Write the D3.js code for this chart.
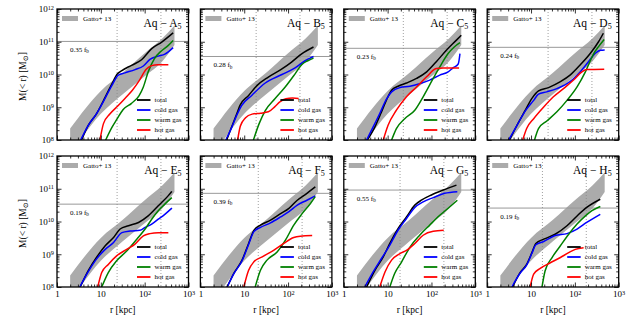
<!DOCTYPE html>
<html>
<head>
<meta charset="utf-8">
<script src="https://cdn.jsdelivr.net/npm/d3@7"></script>
<style>
body{margin:0;background:#fff;}
text{font-family:"Liberation Serif","DejaVu Serif",serif;fill:#000;}
</style>
</head>
<body>
<div id="viz"></div>
<script>
// values as log10(r / kpc), log10(M / Msun)
const panelNames = ["A", "B", "C", "D", "E", "F", "G", "H"];
const fbLabels = ["0.35", "0.28", "0.23", "0.24", "0.19", "0.39", "0.55", "0.19"];
const fbLogM = [11.01, 10.55, 10.80, 10.83, 10.53, 10.86, 10.96, 10.41];
const rVir = [235, 187, 228, 245, 235, 209, 192, 182];

// Gatto+13 band
const bandLogR = [0.3, 1.0, 1.5, 2.0, 2.4, 2.68];
const bandHigh = [8.35, 9.5, 10.05, 10.65, 11.1, 11.5];
const bandLow = [7.55, 8.8, 9.4, 9.95, 10.4, 10.9];

const totalMass = [
	[[0.56,8.0],[0.71,8.44],[0.90,8.80],[1.10,9.31],[1.25,9.71],[1.38,10.02],[1.48,10.12],[1.70,10.28],[1.93,10.45],[2.16,10.79],[2.39,10.99],[2.65,11.27]],
	[[0.60,8.0],[0.71,8.39],[0.83,8.80],[0.90,9.05],[1.10,9.36],[1.29,9.66],[1.55,9.92],[1.86,10.17],[2.08,10.38],[2.31,10.63],[2.58,10.84]],
	[[0.54,8.0],[0.71,8.40],[0.86,8.86],[0.97,9.21],[1.09,9.52],[1.24,9.64],[1.43,9.74],[1.66,9.88],[1.89,10.08],[2.11,10.39],[2.34,10.74],[2.57,11.05],[2.68,11.20]],
	[[0.51,8.0],[0.68,8.45],[0.87,8.91],[1.02,9.27],[1.17,9.50],[1.40,9.60],[1.67,9.78],[1.89,9.98],[2.12,10.29],[2.35,10.64],[2.54,11.0],[2.65,11.26]],
	[[0.53,8.0],[0.71,8.49],[0.90,8.90],[1.10,9.26],[1.29,9.51],[1.44,9.77],[1.63,9.87],[1.86,9.97],[2.08,10.17],[2.31,10.48],[2.54,10.79],[2.62,10.92]],
	[[0.61,8.0],[0.76,8.41],[0.95,8.82],[1.10,9.33],[1.22,9.73],[1.37,9.89],[1.60,10.04],[1.83,10.24],[2.02,10.40],[2.21,10.65],[2.43,10.86],[2.62,11.06]],
	[[0.52,8.0],[0.71,8.51],[0.90,8.92],[1.05,9.33],[1.24,9.79],[1.43,10.14],[1.62,10.50],[1.77,10.65],[2.0,10.81],[2.27,10.96],[2.57,11.11]],
	[[0.58,8.0],[0.75,8.44],[0.90,8.69],[1.02,9.05],[1.11,9.33],[1.29,9.46],[1.55,9.61],[1.82,9.87],[2.05,10.17],[2.27,10.43],[2.58,10.68]]
];

const coldGas = [
	[[0.54,8.0],[0.71,8.44],[0.90,8.80],[1.10,9.28],[1.25,9.66],[1.40,9.98],[1.55,10.05],[1.78,10.15],[1.97,10.26],[2.12,10.46],[2.31,10.56],[2.46,10.62],[2.65,10.82]],
	[[0.58,8.0],[0.71,8.37],[0.83,8.76],[0.94,9.05],[1.17,9.36],[1.48,9.74],[1.86,10.0],[2.16,10.2],[2.39,10.42],[2.58,10.55]],
	[[0.52,8.0],[0.67,8.40],[0.82,8.81],[0.97,9.24],[1.09,9.47],[1.28,9.60],[1.51,9.64],[1.73,9.72],[1.96,9.83],[2.19,9.98],[2.38,10.08],[2.49,10.2],[2.61,10.32],[2.65,10.64]],
	[[0.49,8.0],[0.68,8.45],[0.87,8.89],[1.06,9.21],[1.17,9.40],[1.36,9.47],[1.59,9.57],[1.89,9.78],[2.12,10.08],[2.31,10.39],[2.46,10.64],[2.58,10.74],[2.68,10.75]],
	[[0.52,8.0],[0.71,8.46],[0.90,8.85],[1.10,9.15],[1.29,9.36],[1.48,9.66],[1.67,9.71],[1.89,9.73],[2.01,9.82],[2.16,9.92],[2.31,10.07],[2.46,10.22],[2.62,10.41]],
	[[0.61,8.0],[0.76,8.40],[0.95,8.80],[1.10,9.30],[1.22,9.69],[1.37,9.82],[1.60,9.96],[1.83,10.14],[2.02,10.30],[2.21,10.50],[2.43,10.65],[2.62,10.78]],
	[[0.48,8.0],[0.67,8.46],[0.86,8.87],[1.05,9.28],[1.24,9.74],[1.43,10.09],[1.62,10.43],[1.81,10.60],[2.04,10.73],[2.30,10.86],[2.59,10.91]],
	[[0.56,8.0],[0.75,8.42],[0.90,8.67],[1.02,9.03],[1.11,9.29],[1.29,9.39],[1.55,9.57],[1.82,9.63],[2.05,9.77],[2.27,9.97],[2.58,10.22]]
];

const warmGas = [
	[[1.11,8.0],[1.25,8.38],[1.36,8.62],[1.51,8.93],[1.70,9.12],[1.87,9.35],[1.97,9.62],[2.08,10.08],[2.22,10.48],[2.38,10.72],[2.54,10.89],[2.65,11.04]],
	[[1.21,8.0],[1.34,8.5],[1.48,8.9],[1.70,9.26],[1.93,9.61],[2.16,10.02],[2.31,10.30],[2.45,10.42],[2.58,10.50]],
	[[1.09,8.0],[1.20,8.35],[1.39,8.65],[1.62,8.91],[1.81,9.32],[2.04,9.88],[2.19,10.23],[2.38,10.64],[2.52,10.84],[2.65,10.97]],
	[[1.08,8.0],[1.17,8.35],[1.36,8.58],[1.59,8.86],[1.82,9.21],[2.05,9.62],[2.24,10.08],[2.43,10.64],[2.54,10.85],[2.67,11.07]],
	[[1.02,8.0],[1.17,8.44],[1.36,8.80],[1.59,9.10],[1.82,9.46],[2.01,9.77],[2.16,10.07],[2.31,10.33],[2.46,10.53],[2.62,10.73]],
	[[1.25,8.0],[1.37,8.51],[1.52,8.82],[1.75,9.07],[1.94,9.43],[2.13,9.89],[2.32,10.24],[2.51,10.55],[2.62,10.76]],
	[[1.05,8.0],[1.16,8.41],[1.32,8.77],[1.51,9.22],[1.73,9.58],[1.96,9.89],[2.19,10.19],[2.42,10.45],[2.59,10.65]],
	[[1.25,8.0],[1.32,8.49],[1.48,8.90],[1.67,9.26],[1.86,9.61],[2.05,9.92],[2.24,10.17],[2.39,10.33],[2.58,10.46]]
];

const hotGas = [
	[[0.98,8.0],[1.06,8.5],[1.21,8.8],[1.38,9.03],[1.55,9.27],[1.72,9.52],[1.88,9.82],[2.03,10.15],[2.16,10.27],[2.30,10.30],[2.54,10.30]],
	[[0.85,8.0],[0.91,8.42],[1.03,8.68],[1.18,8.79],[1.37,8.82],[1.55,8.86],[1.70,9.02],[1.82,9.17],[1.95,9.26],[2.10,9.28],[2.24,9.27]],
	[[0.90,8.0],[1.01,8.45],[1.20,8.91],[1.43,9.32],[1.66,9.62],[1.89,9.93],[2.11,10.18],[2.27,10.20],[2.63,10.20]],
	[[0.81,8.0],[0.90,8.35],[1.06,8.65],[1.29,9.01],[1.51,9.32],[1.74,9.57],[1.97,9.83],[2.16,10.08],[2.27,10.15],[2.67,10.16]],
	[[0.93,8.0],[1.02,8.44],[1.17,8.69],[1.36,8.95],[1.59,9.15],[1.78,9.31],[1.97,9.56],[2.12,9.63],[2.31,9.66],[2.54,9.66]],
	[[0.99,8.0],[1.10,8.51],[1.22,8.77],[1.41,8.92],[1.67,9.12],[1.90,9.33],[2.13,9.51],[2.28,9.55],[2.55,9.57]],
	[[0.82,8.0],[0.94,8.46],[1.09,8.82],[1.28,9.02],[1.43,9.12],[1.62,9.33],[1.81,9.58],[2.04,9.70],[2.28,9.73]],
	[[0.98,8.0],[1.06,8.39],[1.21,8.57],[1.44,8.74],[1.67,8.90],[1.86,9.05],[2.01,9.15],[2.20,9.20]]
];

const seriesNames = ["total", "cold gas", "warm gas", "hot gas"];
const seriesColors = ["#000000", "#0000ff", "#008000", "#ff0000"];
const xMajor = [1, 10, 100, 1000];
const yMajor = [1e8, 1e9, 1e10, 1e11, 1e12];

// layout
const colX = [57, 200.4, 343.8, 487.2];
const rowY = [9, 156];
const pw = 131.5, ph = 131;

const svg = d3.select("#viz").append("svg")
	.attr("width", 634)
	.attr("height", 317);

svg.append("defs").append("clipPath").attr("id", "clip")
	.append("rect").attr("width", pw).attr("height", ph);

const x = d3.scaleLog().domain([1, 1000]).range([0, pw]);
const y = d3.scaleLog().domain([1e8, 1e12]).range([ph, 0]);

function minorTicks(lo, hi){
	const out = [];
	for (let k = lo; k < hi; k++) for (let m = 2; m < 10; m++) out.push(m * Math.pow(10, k));
	return out;
}
const xMinor = minorTicks(0, 3);
const yMinor = minorTicks(8, 12);

const line = d3.line()
	.x(d => x(Math.pow(10, d[0])))
	.y(d => y(Math.pow(10, d[1])))
	.curve(d3.curveMonotoneX);

const bandData = bandLogR.map((r, i) => [r, bandLow[i], bandHigh[i]]);
const band = d3.area()
	.x(d => x(Math.pow(10, d[0])))
	.y0(d => y(Math.pow(10, d[1])))
	.y1(d => y(Math.pow(10, d[2])))
	.curve(d3.curveMonotoneX);

// writes "10" with exponent as superscript
function powerLabel(sel, v, showOne){
	const e = Math.round(Math.log10(v));
	sel.text(null);
	if (e === 0) { sel.text("1"); return; }
	if (e === 1 && showOne) { sel.text("10"); return; }
	sel.append("tspan").text("10");
	sel.append("tspan").attr("dy", "-0.45em").attr("font-size", "0.7em").text(e);
}

function addAxis(g, axis, values, size, labels){
	const a = g.call(axis.tickValues(values).tickSize(-size).tickPadding(labels ? 4 : 0).tickFormat(labels ? null : ""));
	a.select(".domain").remove();
	a.selectAll(".tick line").attr("stroke", "#000").attr("stroke-width", 0.8);
	return a;
}

panelNames.forEach((name, i) => {
	const col = i % 4, row = Math.floor(i / 4);
	const g = svg.append("g").attr("transform", `translate(${colX[col]},${rowY[row]})`);
	const plot = g.append("g").attr("clip-path", "url(#clip)");

	plot.append("path").datum(bandData)
		.attr("d", band)
		.attr("fill", "#ababab");

	plot.append("line")
		.attr("x1", 0).attr("x2", pw)
		.attr("y1", y(Math.pow(10, fbLogM[i]))).attr("y2", y(Math.pow(10, fbLogM[i])))
		.attr("stroke", "#999").attr("stroke-width", 1);

	[0.1 * rVir[i], rVir[i]].forEach(r => {
		plot.append("line")
			.attr("x1", x(r)).attr("x2", x(r))
			.attr("y1", 0).attr("y2", ph)
			.attr("stroke", "#888").attr("stroke-width", 0.8)
			.attr("stroke-dasharray", "1,2");
	});

	[totalMass[i], coldGas[i], warmGas[i], hotGas[i]].forEach((s, k) => {
		plot.append("path").datum(s)
			.attr("d", line)
			.attr("fill", "none")
			.attr("stroke", seriesColors[k])
			.attr("stroke-width", 1.5);
	});

	// axes, ticks inward on all sides
	const bottomLabels = row === 1;
	const leftLabels = col === 0;
	const bx = addAxis(g.append("g").attr("transform", `translate(0,${ph})`), d3.axisBottom(x), xMajor, 4.5, bottomLabels);
	if (bottomLabels) {
		bx.selectAll(".tick text").attr("font-size", 9).attr("font-family", null)
			.each(function(d){ powerLabel(d3.select(this), d, true); });
	}
	addAxis(g.append("g").attr("transform", `translate(0,${ph})`), d3.axisBottom(x), xMinor, 2.5, false);
	addAxis(g.append("g"), d3.axisTop(x), xMajor, 4.5, false);
	addAxis(g.append("g"), d3.axisTop(x), xMinor, 2.5, false);
	const ly = addAxis(g.append("g"), d3.axisLeft(y), yMajor, 4.5, leftLabels);
	if (leftLabels) {
		ly.selectAll(".tick text").attr("font-size", 9).attr("font-family", null).attr("x", -3)
			.each(function(d){ powerLabel(d3.select(this), d, false); });
	}
	addAxis(g.append("g"), d3.axisLeft(y), yMinor, 2.5, false);
	addAxis(g.append("g").attr("transform", `translate(${pw},0)`), d3.axisRight(y), yMajor, 4.5, false);
	addAxis(g.append("g").attr("transform", `translate(${pw},0)`), d3.axisRight(y), yMinor, 2.5, false);

	// Gatto+13 key
	g.append("rect").attr("x", 5).attr("y", 7).attr("width", 16).attr("height", 5).attr("fill", "#ababab");
	g.append("text").attr("x", 26).attr("y", 12.3).attr("font-size", 7).text("Gatto+ 13");

	// title
	const t = g.append("text").attr("x", pw - 7).attr("y", 18).attr("font-size", 11.5).attr("text-anchor", "end");
	t.append("tspan").text("Aq \u2212 " + name);
	t.append("tspan").attr("dy", "0.3em").attr("font-size", "0.7em").text("5");

	// baryon fraction label
	const f = g.append("text").attr("x", 13).attr("y", y(Math.pow(10, fbLogM[i])) + 10.5).attr("font-size", 7);
	f.append("tspan").text(fbLabels[i] + " f");
	f.append("tspan").attr("dy", "0.3em").attr("font-size", "0.75em").text("b");

	// series key
	seriesNames.forEach((s, k) => {
		const yy = 91 + k * 10;
		g.append("line").attr("x1", 80).attr("x2", 93.5).attr("y1", yy).attr("y2", yy)
			.attr("stroke", seriesColors[k]).attr("stroke-width", 1.8);
		g.append("text").attr("x", 97.5).attr("y", yy + 2.4).attr("font-size", 7).text(s);
	});

	g.append("rect").attr("width", pw).attr("height", ph)
		.attr("fill", "none").attr("stroke", "#000").attr("stroke-width", 1.3);

	if (bottomLabels) {
		g.append("text").attr("x", pw / 2).attr("y", 313 - rowY[row]).attr("font-size", 9.5)
			.attr("text-anchor", "middle").text("r [kpc]");
	}
	if (leftLabels) {
		const yl = g.append("text").attr("transform", `translate(-31,${ph / 2 + 2}) rotate(-90)`)
			.attr("font-size", 9.5).attr("text-anchor", "middle");
		yl.append("tspan").text("M(< r) [M");
		yl.append("tspan").attr("dy", "0.3em").attr("font-size", "0.75em").text("\u2299");
		yl.append("tspan").attr("dy", "-0.3em").text("]");
	}
});
</script>
</body>
</html>
